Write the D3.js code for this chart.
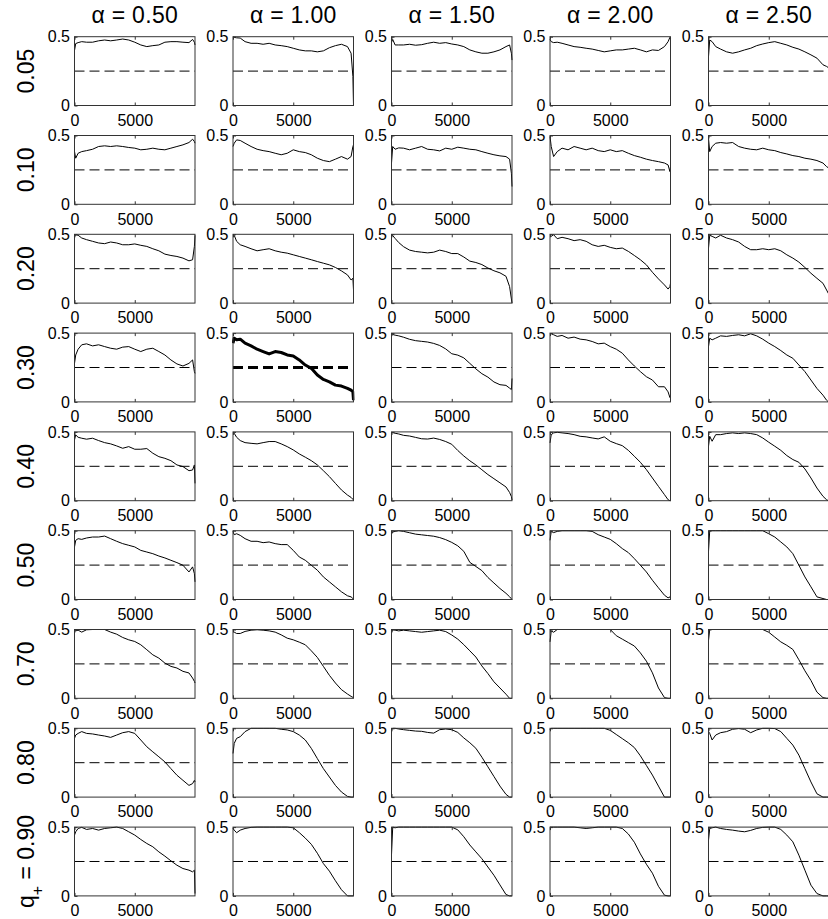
<!DOCTYPE html>
<html>
<head>
<meta charset="utf-8">
<script src="https://cdn.jsdelivr.net/npm/d3@7"></script>
<style>
  body { margin: 0; background: #fff; }
  text { font-family: "Liberation Sans", Arial, Helvetica, sans-serif; fill: #000; }
</style>
</head>
<body>
<div id="chart"></div>
<script>
// x positions shared by every panel (iteration count)
const xs = [0, 100, 300, 600, 1000, 1500, 2000, 2500, 3000, 3500, 4000, 4500, 5000,
            5500, 6000, 6500, 7000, 7500, 8000, 8500, 9000, 9500, 9800, 9950, 10000];

const alphas = ["0.50", "1.00", "1.50", "2.00", "2.50"];
const qLabels = ["0.05", "0.10", "0.20", "0.30", "0.40", "0.50", "0.70", "0.80", "0.90"];
const xTicks = [0, 5000];
const yTicks = [0, 0.5];
const refLevel = 0.25;

// one array per q+ row, five series (one per alpha)
const row005 = [
  [0.40,0.45,0.457,0.464,0.46,0.46,0.47,0.476,0.47,0.476,0.483,0.476,0.46,0.44,0.428,0.435,0.44,0.46,0.464,0.464,0.46,0.457,0.48,0.46,0.44],
  [0.495,0.495,0.492,0.49,0.464,0.452,0.452,0.445,0.452,0.44,0.435,0.428,0.416,0.404,0.397,0.397,0.39,0.397,0.42,0.435,0.445,0.428,0.38,0.21,0.0],
  [0.46,0.48,0.44,0.44,0.44,0.445,0.438,0.442,0.452,0.46,0.452,0.457,0.447,0.44,0.428,0.404,0.39,0.38,0.38,0.39,0.404,0.428,0.44,0.38,0.33],
  [0.48,0.464,0.457,0.46,0.452,0.44,0.428,0.423,0.416,0.41,0.40,0.39,0.397,0.404,0.404,0.41,0.416,0.404,0.39,0.404,0.40,0.428,0.464,0.495,0.49],
  [0.356,0.476,0.464,0.428,0.41,0.39,0.38,0.39,0.404,0.416,0.435,0.447,0.457,0.464,0.452,0.44,0.423,0.41,0.39,0.368,0.344,0.296,0.284,0.275,0.267]
];
const row010 = [
  [0.383,0.335,0.371,0.383,0.39,0.40,0.42,0.425,0.42,0.425,0.42,0.413,0.408,0.396,0.40,0.408,0.40,0.396,0.408,0.42,0.432,0.449,0.473,0.456,0.444],
  [0.42,0.444,0.468,0.464,0.444,0.42,0.40,0.39,0.383,0.371,0.36,0.371,0.396,0.383,0.376,0.36,0.335,0.318,0.31,0.328,0.347,0.328,0.347,0.42,0.432],
  [0.30,0.42,0.40,0.41,0.408,0.396,0.408,0.42,0.40,0.396,0.388,0.408,0.40,0.415,0.408,0.40,0.396,0.383,0.371,0.36,0.352,0.347,0.328,0.226,0.129],
  [0.493,0.42,0.347,0.383,0.408,0.396,0.42,0.408,0.396,0.408,0.39,0.383,0.396,0.383,0.39,0.371,0.354,0.342,0.328,0.318,0.31,0.30,0.286,0.238,0.274],
  [0.48,0.383,0.42,0.444,0.449,0.444,0.449,0.42,0.408,0.40,0.396,0.408,0.396,0.39,0.376,0.366,0.354,0.347,0.335,0.328,0.318,0.30,0.274,0.265,0.262]
];
const row020 = [
  [0.485,0.497,0.493,0.473,0.461,0.449,0.437,0.432,0.444,0.437,0.424,0.424,0.43,0.42,0.412,0.395,0.38,0.356,0.346,0.339,0.327,0.307,0.315,0.412,0.493],
  [0.497,0.493,0.449,0.424,0.412,0.395,0.38,0.388,0.395,0.38,0.37,0.363,0.351,0.339,0.327,0.315,0.302,0.29,0.278,0.259,0.234,0.205,0.168,0.18,0.095],
  [0.50,0.49,0.47,0.44,0.41,0.385,0.375,0.37,0.365,0.37,0.385,0.375,0.36,0.36,0.335,0.305,0.295,0.28,0.255,0.235,0.22,0.195,0.12,0.03,0.0],
  [0.493,0.485,0.497,0.468,0.478,0.468,0.454,0.461,0.449,0.424,0.412,0.42,0.405,0.395,0.40,0.376,0.346,0.315,0.278,0.224,0.176,0.132,0.102,0.12,0.144],
  [0.40,0.493,0.485,0.473,0.493,0.473,0.461,0.444,0.412,0.388,0.388,0.395,0.388,0.395,0.38,0.351,0.327,0.298,0.259,0.217,0.18,0.144,0.095,0.07,0.063]
];
const row030 = [
  [0.28,0.341,0.383,0.415,0.422,0.407,0.415,0.402,0.39,0.383,0.398,0.402,0.383,0.366,0.383,0.39,0.366,0.341,0.305,0.276,0.261,0.28,0.305,0.22,0.207],
  [0.427,0.463,0.451,0.456,0.427,0.407,0.383,0.366,0.349,0.366,0.359,0.341,0.334,0.305,0.268,0.244,0.195,0.163,0.146,0.122,0.115,0.098,0.085,0.073,0.012],
  [0.495,0.49,0.485,0.48,0.47,0.455,0.445,0.44,0.435,0.425,0.41,0.385,0.35,0.34,0.32,0.28,0.24,0.205,0.18,0.145,0.125,0.12,0.10,0.09,0.17],
  [0.488,0.495,0.488,0.476,0.483,0.463,0.471,0.456,0.451,0.439,0.422,0.427,0.402,0.383,0.354,0.305,0.261,0.22,0.183,0.159,0.11,0.11,0.073,0.032,0.049],
  [0.402,0.463,0.451,0.463,0.48,0.476,0.483,0.488,0.48,0.495,0.48,0.456,0.427,0.402,0.373,0.341,0.317,0.268,0.22,0.159,0.098,0.049,0.012,0.0,0.0]
];
const row040 = [
  [0.442,0.478,0.461,0.454,0.447,0.454,0.437,0.422,0.413,0.398,0.381,0.393,0.374,0.374,0.379,0.345,0.32,0.308,0.291,0.26,0.248,0.218,0.223,0.26,0.126],
  [0.495,0.49,0.461,0.437,0.422,0.417,0.413,0.422,0.43,0.43,0.413,0.393,0.369,0.34,0.316,0.291,0.26,0.218,0.175,0.126,0.078,0.041,0.024,0.01,0.005],
  [0.49,0.495,0.49,0.485,0.475,0.47,0.46,0.45,0.448,0.455,0.445,0.43,0.41,0.365,0.325,0.29,0.26,0.225,0.19,0.16,0.13,0.10,0.06,0.03,0.005],
  [0.42,0.48,0.493,0.497,0.493,0.488,0.48,0.468,0.464,0.456,0.449,0.464,0.432,0.415,0.40,0.366,0.323,0.279,0.226,0.165,0.104,0.044,0.007,0.0,0.0],
  [0.396,0.468,0.432,0.48,0.48,0.488,0.493,0.488,0.493,0.488,0.48,0.456,0.425,0.396,0.366,0.328,0.299,0.279,0.231,0.165,0.092,0.032,0.007,0.0,0.0]
];
const row050 = [
  [0.382,0.43,0.442,0.437,0.447,0.454,0.454,0.461,0.442,0.423,0.406,0.394,0.382,0.357,0.345,0.333,0.316,0.302,0.285,0.268,0.249,0.20,0.237,0.188,0.128],
  [0.495,0.471,0.478,0.466,0.442,0.423,0.423,0.413,0.418,0.406,0.399,0.399,0.357,0.309,0.285,0.249,0.213,0.164,0.128,0.092,0.056,0.027,0.019,0.007,0.005],
  [0.48,0.49,0.495,0.50,0.495,0.485,0.475,0.47,0.465,0.46,0.45,0.435,0.415,0.39,0.35,0.27,0.24,0.21,0.16,0.12,0.08,0.045,0.02,0.005,0.0],
  [0.43,0.495,0.486,0.495,0.50,0.50,0.50,0.50,0.50,0.495,0.471,0.454,0.437,0.406,0.37,0.341,0.297,0.249,0.20,0.14,0.085,0.031,0.012,0.019,0.007],
  [0.35,0.50,0.50,0.50,0.50,0.50,0.50,0.50,0.50,0.50,0.50,0.50,0.478,0.454,0.418,0.382,0.333,0.249,0.164,0.092,0.019,0.007,0.0,0.0,0.0]
];
const row070 = [
  [0.498,0.49,0.495,0.481,0.498,0.50,0.50,0.50,0.481,0.466,0.442,0.425,0.413,0.389,0.353,0.316,0.292,0.256,0.232,0.22,0.196,0.184,0.147,0.123,0.111],
  [0.486,0.481,0.471,0.471,0.486,0.495,0.498,0.495,0.49,0.481,0.461,0.437,0.425,0.408,0.389,0.345,0.297,0.232,0.167,0.111,0.063,0.031,0.014,0.007,0.007],
  [0.48,0.50,0.495,0.49,0.495,0.49,0.485,0.48,0.485,0.49,0.495,0.485,0.46,0.43,0.39,0.345,0.30,0.235,0.18,0.12,0.075,0.03,0.0,0.0,0.0],
  [0.41,0.49,0.48,0.50,0.50,0.50,0.50,0.50,0.50,0.50,0.50,0.50,0.50,0.455,0.43,0.405,0.38,0.33,0.27,0.185,0.075,0.005,0.0,0.0,0.0],
  [0.42,0.50,0.50,0.50,0.50,0.50,0.50,0.50,0.50,0.50,0.50,0.50,0.48,0.445,0.41,0.385,0.355,0.28,0.20,0.13,0.045,0.005,0.0,0.0,0.0]
];
const row080 = [
  [0.427,0.451,0.463,0.476,0.463,0.459,0.451,0.444,0.434,0.451,0.468,0.476,0.463,0.415,0.366,0.329,0.293,0.256,0.207,0.159,0.122,0.085,0.098,0.122,0.11],
  [0.317,0.39,0.427,0.439,0.476,0.50,0.50,0.50,0.50,0.50,0.493,0.488,0.476,0.451,0.415,0.354,0.28,0.207,0.146,0.085,0.037,0.005,0.0,0.0,0.0],
  [0.49,0.50,0.50,0.495,0.49,0.485,0.48,0.478,0.47,0.465,0.49,0.495,0.49,0.47,0.43,0.395,0.355,0.29,0.22,0.15,0.08,0.02,0.0,0.0,0.0],
  [0.49,0.50,0.50,0.50,0.50,0.50,0.50,0.50,0.50,0.50,0.50,0.50,0.485,0.455,0.425,0.395,0.36,0.30,0.23,0.16,0.08,0.0,0.0,0.0,0.0],
  [0.476,0.463,0.415,0.451,0.468,0.476,0.493,0.498,0.493,0.468,0.488,0.50,0.50,0.498,0.476,0.427,0.378,0.305,0.207,0.11,0.024,0.0,0.0,0.0,0.0]
];
const row090 = [
  [0.442,0.466,0.49,0.498,0.483,0.49,0.478,0.49,0.495,0.50,0.49,0.466,0.442,0.41,0.381,0.357,0.32,0.289,0.255,0.223,0.199,0.187,0.175,0.187,0.017],
  [0.49,0.478,0.459,0.478,0.49,0.498,0.50,0.50,0.50,0.50,0.50,0.50,0.495,0.46,0.42,0.375,0.31,0.235,0.18,0.11,0.045,0.0,0.0,0.0,0.0],
  [0.30,0.50,0.495,0.50,0.50,0.50,0.50,0.50,0.50,0.50,0.50,0.50,0.50,0.48,0.43,0.37,0.32,0.27,0.21,0.15,0.08,0.01,0.0,0.0,0.0],
  [0.50,0.50,0.50,0.50,0.50,0.50,0.50,0.495,0.49,0.495,0.50,0.50,0.50,0.50,0.49,0.45,0.39,0.305,0.23,0.165,0.07,0.005,0.0,0.0,0.0],
  [0.405,0.49,0.495,0.50,0.49,0.483,0.478,0.471,0.466,0.476,0.49,0.498,0.50,0.50,0.483,0.442,0.393,0.296,0.187,0.078,0.017,0.0,0.0,0.0,0.0]
];
const rows = [row005, row010, row020, row030, row040, row050, row070, row080, row090];

// highlighted panel (q+ = 0.30, alpha = 1.00)
const boldRow = 3, boldCol = 1;

//Set up canvas
let width = 828,
    height = 919,
    panelW = 120.5,
    panelH = 68.8,
    left0 = 74.5,
    colStep = 158.5,
    top0 = 36.7,
    rowStep = 98.8;

let svg = d3.select('#chart')
  .append('svg')
  .attr('width', width)
  .attr('height', height);

svg.append('rect').attr('width', width).attr('height', height).attr('fill', '#fff');

let x = d3.scaleLinear().domain([0, 10000]).range([0, panelW]);
let y = d3.scaleLinear().domain([0, 0.5]).range([panelH, 0]);

let line = d3.line()
  .x((d, i) => x(xs[i]))
  .y(d => y(d));

svg.append('defs').append('clipPath')
  .attr('id', 'clip')
  .append('rect')
  .attr('x', -1).attr('y', -1)
  .attr('width', panelW + 2).attr('height', panelH + 2);

// column titles
alphas.forEach((a, c) => {
  svg.append('text')
    .attr('x', left0 + c * colStep + panelW / 2)
    .attr('y', 23)
    .attr('text-anchor', 'middle')
    .style('font-size', '23px')
    .style('letter-spacing', '0.3px')
    .text(`α = ${a}`);
});

// row labels
qLabels.forEach((q, r) => {
  let t = svg.append('text')
    .attr('transform', `translate(34, ${top0 + r * rowStep + panelH / 2}) rotate(-90)`)
    .attr('text-anchor', 'middle')
    .style('font-size', '23px');
  if (r === qLabels.length - 1) {
    t.append('tspan').text('q');
    t.append('tspan').attr('baseline-shift', 'sub').style('font-size', '16px').text('+');
    t.append('tspan').text(` = ${q}`);
  } else {
    t.text(q);
  }
});

rows.forEach((series, r) => {
  series.forEach((vals, c) => {
    let bold = (r === boldRow && c === boldCol);
    let g = svg.append('g')
      .attr('transform', `translate(${left0 + c * colStep}, ${top0 + r * rowStep})`);

    // reference level
    g.append('line')
      .attr('x1', 0).attr('x2', panelW)
      .attr('y1', y(refLevel)).attr('y2', y(refLevel))
      .attr('stroke', '#000')
      .attr('stroke-width', bold ? 3 : 1)
      .attr('stroke-dasharray', '10,5');

    g.append('path')
      .datum(vals)
      .attr('d', line)
      .attr('clip-path', 'url(#clip)')
      .attr('fill', 'none')
      .attr('stroke', '#000')
      .attr('stroke-width', bold ? 3 : 1)
      .attr('stroke-linejoin', 'round');

    //Axes
    let xAxis = d3.axisBottom(x)
      .tickValues(xTicks)
      .tickFormat(d3.format('d'))
      .tickSizeInner(-3)
      .tickSizeOuter(0)
      .tickPadding(9);
    let gx = g.append('g')
      .attr('transform', `translate(0, ${panelH})`)
      .call(xAxis);
    gx.select('.domain').remove();
    gx.selectAll('text').style('font-size', '16px').attr('fill', '#000');
    gx.selectAll('line').attr('stroke', '#333');

    let xTop = d3.axisTop(x).tickValues(xTicks).tickSizeInner(-3).tickSizeOuter(0).tickFormat('');
    let gt = g.append('g').call(xTop);
    gt.select('.domain').remove();
    gt.selectAll('line').attr('stroke', '#333');

    let yAxis = d3.axisLeft(y)
      .tickValues(yTicks)
      .tickFormat(d => d === 0 ? '0' : d3.format('.1f')(d))
      .tickSizeInner(-3)
      .tickSizeOuter(0)
      .tickPadding(4.5);
    let gy = g.append('g').call(yAxis);
    gy.select('.domain').remove();
    gy.selectAll('text').style('font-size', '16px').attr('fill', '#000');
    gy.selectAll('line').attr('stroke', '#333');

    // box
    g.append('rect')
      .attr('width', panelW)
      .attr('height', panelH)
      .attr('fill', 'none')
      .attr('stroke', '#333')
      .attr('stroke-width', 1);
  });
});
</script>
</body>
</html>
